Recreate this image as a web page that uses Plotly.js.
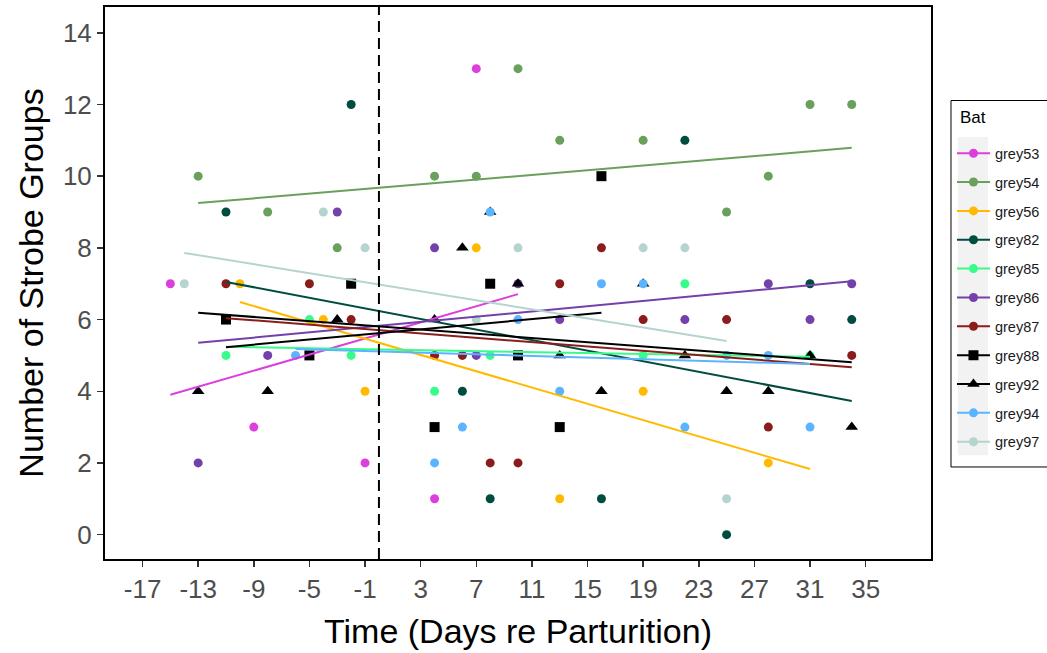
<!DOCTYPE html>
<html>
<head>
<meta charset="utf-8">
<script src="https://cdn.plot.ly/plotly-3.0.1.min.js"></script>
<style>html,body{margin:0;padding:0;background:#fff;}#chart{width:1047px;height:653px;}</style>
</head>
<body>
<div id="chart"></div>
<script>
// ---- data ----
const bats = ['grey53','grey54','grey56','grey82','grey85','grey86','grey87','grey88','grey92','grey94','grey97'];

const grey53_x = [-15, -9, -1, 4, 7];
const grey53_y = [7, 3, 2, 1, 13];
const grey54_x = [-13, -8, -3, 4, 7, 10, 13, 19, 25, 28, 31, 34];
const grey54_y = [10, 9, 8, 10, 10, 13, 11, 11, 9, 10, 12, 12];
const grey56_x = [-10, -4, -1, 7, 13, 19, 28];
const grey56_y = [7, 6, 4, 8, 1, 4, 2];
const grey82_x = [-11, -2, 6, 8, 16, 22, 25, 31, 34];
const grey82_y = [9, 12, 4, 1, 1, 11, 0, 7, 6];
const grey85_x = [-11, -5, -2, 4, 8, 19, 22, 31];
const grey85_y = [5, 6, 5, 4, 5, 5, 7, 5];
const grey86_x = [-13, -8, -3, 4, 7, 10, 13, 22, 28, 31, 34];
const grey86_y = [2, 5, 9, 8, 5, 7, 6, 6, 7, 6, 7];
const grey87_x = [-11, -5, -2, 4, 6, 8, 10, 13, 16, 19, 25, 28, 34];
const grey87_y = [7, 7, 6, 5, 5, 2, 2, 7, 8, 6, 6, 3, 5];
const grey88_x = [-11, -5, -2, 4, 8, 10, 13, 16];
const grey88_y = [6, 5, 7, 3, 7, 5, 3, 10];
const grey92_x = [-13, -8, -3, 4, 6, 8, 10, 13, 16, 19, 22, 25, 28, 31, 34];
const grey92_y = [4, 4, 6, 6, 8, 9, 7, 5, 4, 7, 5, 4, 4, 5, 3];
const grey94_x = [-6, 4, 6, 8, 10, 13, 16, 19, 22, 25, 28, 31];
const grey94_y = [5, 2, 3, 9, 6, 4, 7, 7, 3, 5, 5, 3];
const grey97_x = [-14, -4, -1, 7, 10, 19, 22, 25];
const grey97_y = [7, 9, 8, 6, 8, 8, 8, 1];

// fitted (linear) trend lines: start/end
const fit_x = {
  grey53: [-15, 10], grey54: [-13, 34], grey56: [-10, 31], grey82: [-11, 34],
  grey85: [-11, 31], grey86: [-13, 34], grey87: [-11, 34], grey88: [-11, 16],
  grey92: [-13, 34], grey94: [-6, 31], grey97: [-14, 25]
};
const fit_y = {
  grey53: [3.90, 6.71], grey54: [9.25, 10.79], grey56: [6.49, 1.83], grey82: [7.05, 3.73],
  grey85: [5.24, 4.96], grey86: [5.35, 7.07], grey87: [6.04, 4.67], grey88: [5.23, 6.19],
  grey92: [6.19, 4.81], grey94: [5.18, 4.76], grey97: [7.86, 5.40]
};

const xTicks = [-17, -13, -9, -5, -1, 3, 7, 11, 15, 19, 23, 27, 31, 35];
const yTicks = [0, 2, 4, 6, 8, 10, 12, 14];
const partDay = [0];
const legendTitle = 'Bat';

// ---- styles ----
const colors = {
  grey53: '#DD3FDD', grey54: '#68A05C', grey56: '#FFBA00', grey82: '#004D3F',
  grey85: '#38FC8A', grey86: '#7440AA', grey87: '#8B1C1C', grey88: '#000000',
  grey92: '#000000', grey94: '#5BB4FF', grey97: '#B4D4CF'
};
const symbols = { grey88: 'square', grey92: 'triangle-up' };
const sizes = { grey88: 10, grey92: 11 };

const pts = {
  grey53: [grey53_x, grey53_y], grey54: [grey54_x, grey54_y], grey56: [grey56_x, grey56_y],
  grey82: [grey82_x, grey82_y], grey85: [grey85_x, grey85_y], grey86: [grey86_x, grey86_y],
  grey87: [grey87_x, grey87_y], grey88: [grey88_x, grey88_y], grey92: [grey92_x, grey92_y],
  grey94: [grey94_x, grey94_y], grey97: [grey97_x, grey97_y]
};

const traces = [];
bats.forEach(b => {
  traces.push({
    type: 'scatter', mode: 'markers', x: pts[b][0], y: pts[b][1],
    marker: { color: colors[b], symbol: symbols[b] || 'circle', size: sizes[b] || 9, line: {width: 0} },
    showlegend: false, legendgroup: b, hoverinfo: 'x+y'
  });
});
bats.forEach(b => {
  traces.push({
    type: 'scatter', mode: 'lines', x: fit_x[b], y: fit_y[b],
    line: { color: colors[b], width: 2 },
    showlegend: false, legendgroup: b, hoverinfo: 'skip'
  });
});
bats.forEach(b => {
  traces.push({
    type: 'scatter', mode: 'lines+markers', x: [null], y: [null], name: b,
    line: { color: colors[b], width: 2 },
    marker: { color: colors[b], symbol: symbols[b] || 'circle', size: sizes[b] || 9 },
    showlegend: true, legendgroup: b
  });
});

const FONT = 'Liberation Sans, Arial, sans-serif';

const layout = {
  width: 1047, height: 653,
  margin: { l: 105, r: 116, t: 7, b: 94, autoexpand: false },
  paper_bgcolor: '#ffffff', plot_bgcolor: '#ffffff',
  font: { family: FONT, color: '#000' },
  showlegend: true,
  xaxis: {
    range: [-19.7, 39.7], tickvals: xTicks, ticktext: xTicks.map(String),
    ticks: 'outside', ticklen: 6, tickwidth: 1.5, tickcolor: '#333',
    tickfont: { family: FONT, size: 26, color: '#4d4d4d' },
    showline: true, mirror: true, linecolor: '#000', linewidth: 2,
    showgrid: false, zeroline: false,
    title: { text: 'Time (Days re Parturition)', font: { family: FONT, size: 34, color: '#000' }, standoff: 16 }
  },
  yaxis: {
    range: [-0.68, 14.72], tickvals: yTicks, ticktext: yTicks.map(String),
    ticks: 'outside', ticklen: 6, tickwidth: 1.5, tickcolor: '#333',
    tickfont: { family: FONT, size: 26, color: '#4d4d4d' },
    showline: true, mirror: true, linecolor: '#000', linewidth: 2,
    showgrid: false, zeroline: false,
    title: { text: 'Number of Strobe Groups', font: { family: FONT, size: 34, color: '#000' }, standoff: 9 }
  },
  legend: {
    x: 1.0254, xanchor: 'left', y: 0.764, yanchor: 'top',
    bgcolor: 'rgba(0,0,0,0)', borderwidth: 0,
    font: { family: FONT, size: 14.5, color: '#1a1a1a' },
    tracegroupgap: 7, itemwidth: 33
  },
  annotations: [
    {
      xref: 'paper', yref: 'paper', x: 1.0327, y: 0.799, xanchor: 'left', yanchor: 'middle',
      text: legendTitle, showarrow: false, font: { family: FONT, size: 17, color: '#000' }
    }
  ],
  shapes: [
    {
      type: 'line', xref: 'x', yref: 'paper', x0: partDay[0], x1: partDay[0], y0: 0, y1: 1,
      line: { color: '#000', width: 2, dash: '11px,6px' }, layer: 'above'
    },
    {
      type: 'rect', xref: 'paper', yref: 'paper', x0: 1.0242, x1: 1.2, y0: 0.1667, y1: 0.8306,
      fillcolor: 'rgba(0,0,0,0)', line: { width: 1, color: '#000' }, layer: 'above'
    },
    {
      type: 'rect', xref: 'paper', yref: 'paper', x0: 1.0327, x1: 1.069, y0: 0.188, y1: 0.7645,
      fillcolor: '#f2f2f2', line: { width: 0 }, layer: 'above'
    }
  ]
};

Plotly.newPlot('chart', traces, layout, { displayModeBar: false, staticPlot: true });
</script>
</body>
</html>
